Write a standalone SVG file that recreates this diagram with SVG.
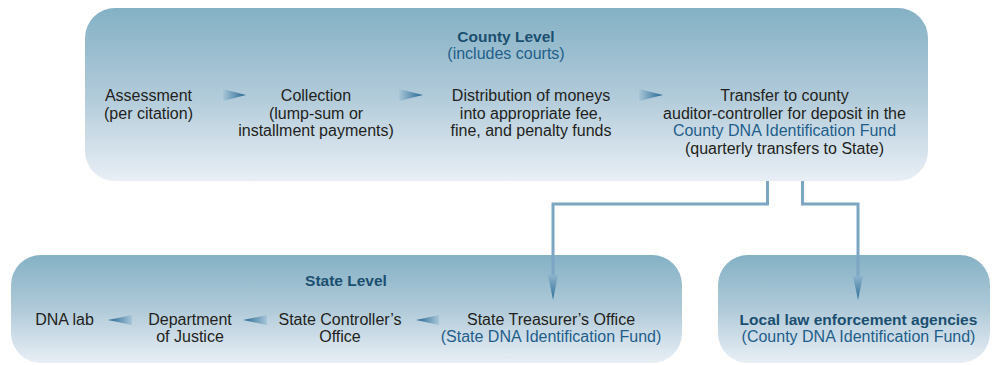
<svg xmlns="http://www.w3.org/2000/svg" width="992" height="365" viewBox="0 0 992 365">
<defs>
<linearGradient id="boxg" x1="0" y1="0" x2="0" y2="1">
<stop offset="0" stop-color="#84B1C5"/>
<stop offset="0.5" stop-color="#B0CAD9"/>
<stop offset="1" stop-color="#E9EFF5"/>
</linearGradient>
<linearGradient id="arrR" x1="0" y1="0" x2="1" y2="0">
<stop offset="0" stop-color="#A8C6D9"/>
<stop offset="1" stop-color="#246690"/>
</linearGradient>
<linearGradient id="arrL" x1="1" y1="0" x2="0" y2="0">
<stop offset="0" stop-color="#A8C6D9"/>
<stop offset="1" stop-color="#246690"/>
</linearGradient>
<linearGradient id="arrD" x1="0" y1="0" x2="0" y2="1">
<stop offset="0" stop-color="#8DB3CC"/>
<stop offset="1" stop-color="#2F6F98"/>
</linearGradient>
</defs>
<style>
.box{fill:url(#boxg);}
text{font-family:"Liberation Sans",Arial,sans-serif;font-size:16px;fill:#231F20;text-anchor:middle;}
.title{font-weight:bold;font-size:15.5px;fill:#1B4F70;}
.blue{fill:#1F5E8A;}
.wire{fill:none;stroke:#7CA6C3;stroke-width:3;}
</style>

<g id="county">
<rect class="box" x="85" y="8" width="843" height="173" rx="30" ry="30"/>
<text class="title" x="506" y="42">County Level</text>
<text class="blue" x="506" y="59">(includes courts)</text>
</g>
<g id="assessment">
<text x="148.5" y="101">Assessment</text>
<text x="148.5" y="118.5">(per citation)</text>
</g>
<g id="collection">
<text x="316" y="101">Collection</text>
<text x="316" y="118.5">(lump-sum or</text>
<text x="316" y="136">installment payments)</text>
</g>
<g id="distribution">
<text x="531" y="101">Distribution of moneys</text>
<text x="531" y="118.5">into appropriate fee,</text>
<text x="531" y="136">fine, and penalty funds</text>
</g>
<g id="transfer">
<text x="784.5" y="101">Transfer to county</text>
<text x="784.5" y="118.5">auditor-controller for deposit in the</text>
<text class="blue" x="784.5" y="136">County DNA Identification Fund</text>
<text x="784.5" y="153.5">(quarterly transfers to State)</text>
</g>

<g id="state">
<rect class="box" x="11" y="255" width="671" height="108" rx="30" ry="30"/>
<text class="title" x="346" y="286">State Level</text>
</g>
<g id="dna-lab">
<text x="64.5" y="325">DNA lab</text>
</g>
<g id="doj">
<text x="190" y="325">Department</text>
<text x="190" y="342">of Justice</text>
</g>
<g id="controller">
<text x="340" y="325">State Controller’s</text>
<text x="340" y="342">Office</text>
</g>
<g id="treasurer">
<text x="551" y="325">State Treasurer’s Office</text>
<text class="blue" x="551" y="342">(State DNA Identification Fund)</text>
</g>

<g id="local">
<rect class="box" x="718" y="255" width="272" height="108" rx="30" ry="30"/>
<text class="title" x="858.5" y="325">Local law enforcement agencies</text>
<text class="blue" x="858.5" y="342">(County DNA Identification Fund)</text>
</g>

<g id="connectors">
<polygon points="223,89 246,95 223,101" fill="url(#arrR)"/>
<polygon points="399,89 423,95 399,101" fill="url(#arrR)"/>
<polygon points="639,89 663,95 639,101" fill="url(#arrR)"/>
<polygon points="132,315 108,320 132,325" fill="url(#arrL)"/>
<polygon points="267,315 243,320 267,325" fill="url(#arrL)"/>
<polygon points="439,315 416,320 439,325" fill="url(#arrL)"/>
<polyline class="wire" points="767.5,181 767.5,204 553,204 553,276"/>
<polygon points="548,275 558,275 553,300" fill="url(#arrD)"/>
<polyline class="wire" points="802.5,181 802.5,204 858,204 858,277"/>
<polygon points="853,276 863,276 858,300" fill="url(#arrD)"/>
</g>
</svg>
